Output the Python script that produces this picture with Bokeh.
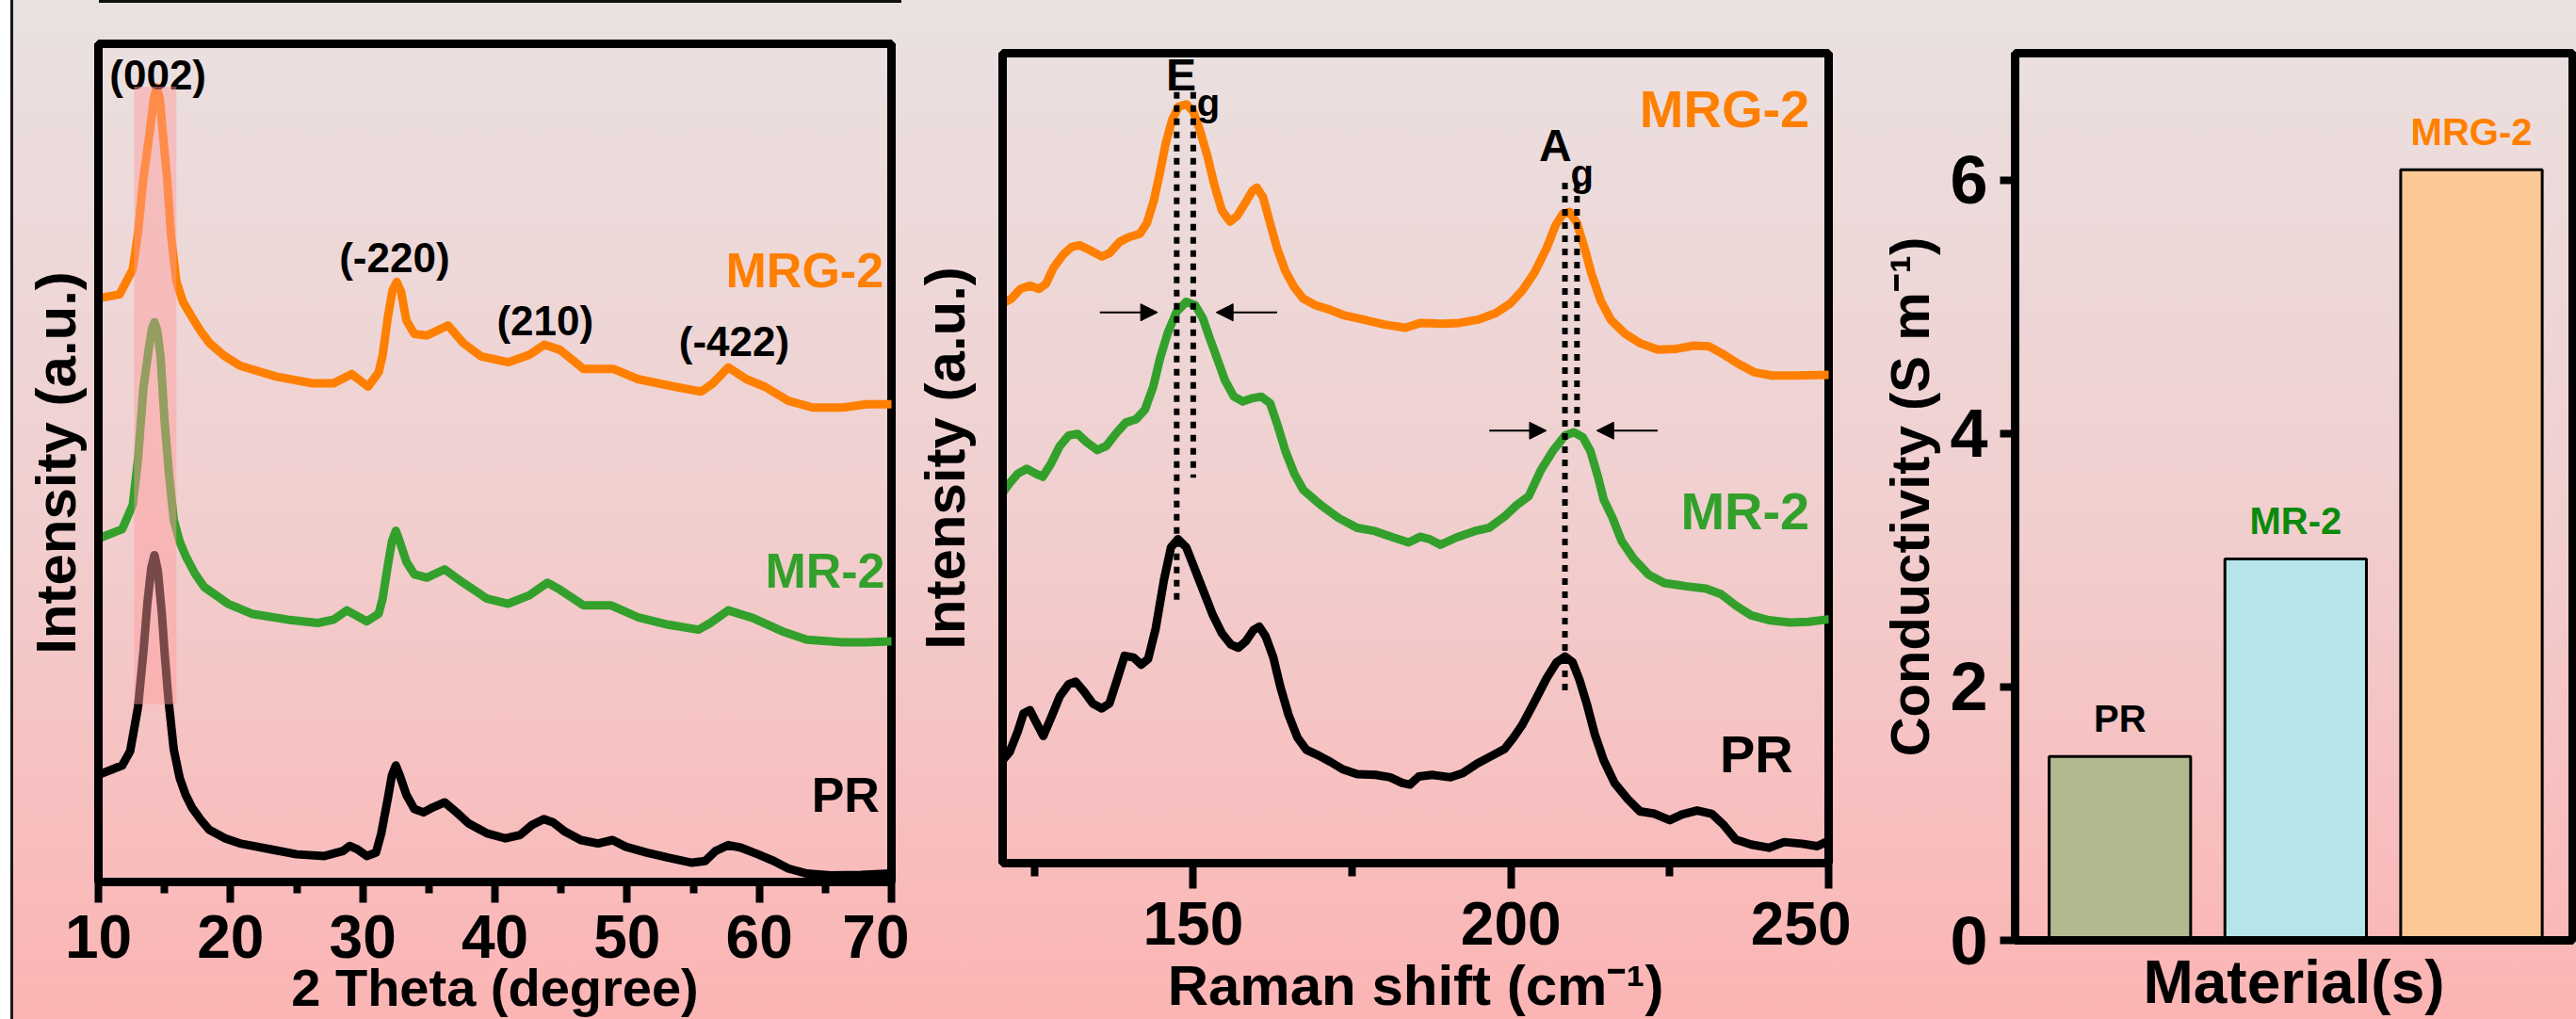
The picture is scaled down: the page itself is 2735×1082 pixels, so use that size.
from bokeh.plotting import figure
from bokeh.models import Range1d, FixedTicker, BoxAnnotation, Arrow, NormalHead, ColumnDataSource
from bokeh.core.properties import value
from bokeh.embed import file_html
from bokeh.resources import INLINE

FONT = "Liberation Sans"

# ---------------- XRD (panel 1) ----------------
xrd_pr_2theta = [10.2, 11.8, 12.4, 13.0, 13.4, 13.7, 14.0, 14.24, 14.5, 14.8, 15.0, 15.3, 15.7, 16.15, 16.6,
                 17.07, 17.75, 18.4, 19.6, 20.7, 23.0, 25.0, 27.1, 28.5, 29.0, 29.6, 30.3, 31.0, 31.4, 31.9,
                 32.2, 32.5, 32.8, 33.3, 33.9, 34.6, 35.3, 36.2, 37.1, 38.0, 39.4, 40.8, 41.9, 42.8, 43.7,
                 44.4, 45.3, 46.5, 47.8, 48.9, 49.9, 51.5, 53.1, 54.9, 55.9, 56.7, 57.65, 58.6, 59.9, 61.1,
                 62.2, 63.6, 65.4, 67.7, 69.9]
xrd_pr_int = [12.9, 13.9, 15.6, 20.9, 27.4, 33.2, 37.5, 39.0, 37.1, 32.0, 27.5, 21.7, 15.8, 12.4, 10.4,
              8.9, 7.4, 6.2, 5.2, 4.6, 3.9, 3.3, 3.1, 3.7, 4.3, 3.9, 3.1, 3.5, 5.8, 10.0,
              12.7, 13.9, 12.7, 10.4, 8.7, 8.3, 8.9, 9.5, 8.3, 7.0, 5.8, 5.2, 5.6, 6.8, 7.5,
              7.1, 6.0, 5.0, 4.6, 5.0, 4.2, 3.5, 2.9, 2.3, 2.5, 3.7, 4.4, 4.1, 3.3, 2.5,
              1.6, 1.0, 0.8, 0.85, 1.0]

xrd_mr_2theta = [10.2, 11.8, 12.6, 13.0, 13.4, 13.8, 14.05, 14.24, 14.45, 14.7, 15.0, 15.35, 15.7, 16.15,
                 16.6, 17.3, 18.0, 19.8, 21.6, 24.3, 26.6, 27.8, 28.8, 30.3, 31.2, 31.5, 31.9, 32.2, 32.5,
                 32.8, 33.3, 33.9, 34.85, 36.2, 37.6, 39.4, 41.0, 42.6, 43.97, 44.9, 46.7, 48.8, 50.8, 53.1,
                 55.4, 56.3, 57.65, 59.5, 61.75, 63.6, 66.3, 68.1, 69.96]
xrd_mr_int = [41.1, 42.1, 45.0, 50.5, 58.9, 63.5, 66.0, 66.8, 65.8, 62.7, 55.1, 48.5, 43.2, 40.6,
              38.9, 36.8, 35.2, 33.2, 32.0, 31.3, 30.9, 31.3, 32.4, 31.1, 32.0, 33.8, 37.8, 40.6, 41.9,
              40.6, 38.2, 36.7, 36.3, 37.3, 35.7, 33.8, 33.2, 34.2, 35.7, 34.9, 33.0, 33.0, 31.6, 30.7,
              30.1, 30.9, 32.4, 31.5, 29.9, 28.9, 28.6, 28.6, 28.7]

xrd_mrg_2theta = [10.2, 11.6, 12.6, 13.0, 13.4, 13.9, 14.2, 14.42, 14.65, 14.9, 15.2, 15.5, 15.9, 16.4,
                  17.07, 17.7, 18.4, 19.5, 20.7, 23.45, 26.2, 27.8, 29.15, 30.4, 31.2, 31.5, 31.9, 32.25,
                  32.57, 32.9, 33.3, 33.9, 34.85, 36.45, 37.6, 38.95, 41.0, 42.6, 43.74, 44.9, 46.7, 49.0,
                  50.8, 53.56, 55.6, 56.5, 57.65, 59.0, 60.4, 62.2, 64.05, 66.3, 68.1, 69.96]
xrd_mrg_int = [69.7, 70.1, 73.1, 77.5, 83.9, 89.7, 93.6, 94.8, 93.4, 88.9, 83.9, 77.0, 71.6, 69.2,
               67.4, 65.8, 64.3, 62.8, 61.6, 60.3, 59.5, 59.5, 60.6, 59.1, 60.8, 62.8, 67.4, 70.6,
               71.6, 70.4, 67.0, 65.4, 65.2, 66.4, 64.3, 62.7, 62.0, 62.9, 64.1, 63.5, 61.2, 61.2,
               60.0, 59.1, 58.5, 59.5, 61.4, 60.0, 59.1, 57.4, 56.6, 56.6, 57.0, 57.0]

xrd_ticks = [10, 20, 30, 40, 50, 60, 70]
xrd_minor_ticks = [15, 25, 35, 45, 55, 65]
xrd_band_2theta = [12.7, 15.9]
xrd_band_int = [21.2, 94.9]

hkl_labels = ["(002)", "(-220)", "(210)", "(-422)"]
hkl_2theta = [14.5, 32.4, 43.8, 58.1]
hkl_int = [96.3, 74.5, 67.0, 64.5]

xrd_names = ["MRG-2", "MR-2", "PR"]
xrd_name_2theta = [69.4, 69.5, 69.1]
xrd_name_int = [73.0, 37.1, 10.4]

# ---------------- Raman (panel 2) ----------------
raman_mrg_shift = [120, 121.4, 122.8, 124.3, 125.7, 126.8, 128.0, 129.5, 130.9, 132.1, 133.7, 135.6, 136.8,
                   138.4, 139.9, 141.6, 142.7, 143.8, 144.8, 145.7, 146.7, 147.7, 148.9, 150.0, 151.0,
                   152.2, 153.3, 154.5, 155.8, 156.9, 158.1, 159.3, 160.0, 161.0, 162.1, 163.2, 164.5,
                   165.9, 167.3, 169.2, 171.6, 173.5, 176.8, 180.1, 183.4, 185.8, 189.1, 191.9, 194.8,
                   197.6, 199.9, 201.8, 203.7, 205.6, 207.0, 208.2, 209.2, 210.4, 211.6, 212.7, 214.1,
                   215.7, 217.9, 220.3, 223.1, 226.0, 228.8, 231.2, 233.5, 235.9, 238.3, 241.1, 244.9, 250.0]
raman_mrg_int = [69.1, 69.7, 70.9, 71.3, 70.9, 71.5, 73.5, 75.1, 76.1, 76.3, 75.7, 74.9, 75.3,
                 76.7, 77.3, 77.7, 79.0, 81.8, 85.4, 89.0, 91.8, 93.4, 93.7, 92.8, 90.6,
                 87.4, 83.8, 80.6, 79.2, 79.9, 81.4, 83.0, 83.4, 82.2, 79.0, 75.9, 73.1,
                 71.1, 69.7, 68.9, 68.3, 67.7, 67.1, 66.5, 66.1, 66.7, 66.6, 66.7, 67.1,
                 67.9, 69.1, 70.7, 72.9, 75.9, 78.7, 80.2, 80.4, 79.0, 75.9, 72.7, 69.5,
                 67.1, 65.4, 64.2, 63.4, 63.5, 63.9, 63.8, 62.8, 61.6, 60.6, 60.2, 60.2, 60.3]

raman_mr_shift = [120, 121.1, 122.4, 123.8, 125.2, 126.3, 127.6, 129.0, 130.4, 131.8, 133.2, 134.9, 136.3,
                  138.0, 139.4, 141.0, 142.4, 143.7, 144.8, 146.0, 147.4, 148.9, 150.3, 151.5, 152.6,
                  153.9, 155.0, 156.4, 157.8, 159.3, 160.7, 162.1, 163.3, 164.5, 165.9, 167.3, 170.1,
                  172.9, 175.8, 178.6, 181.5, 183.9, 185.7, 187.2, 188.9, 191.4, 194.3, 196.6, 199.0,
                  200.9, 202.8, 204.7, 206.6, 208.5, 209.9, 211.3, 212.5, 213.7, 214.6, 216.0, 217.4,
                  219.3, 221.7, 224.1, 227.4, 230.7, 233.1, 235.4, 237.8, 240.6, 243.9, 246.8, 250.0]
raman_mr_int = [45.7, 46.9, 48.1, 48.7, 48.1, 47.7, 49.3, 51.5, 52.8, 53.0, 52.0, 51.0, 51.5,
                53.2, 54.4, 54.8, 56.0, 58.8, 62.4, 65.5, 68.1, 69.3, 68.9, 67.3, 64.8,
                62.0, 59.6, 57.6, 57.0, 57.4, 57.6, 56.8, 54.0, 50.9, 48.1, 46.1, 44.2,
                42.6, 41.4, 41.0, 40.2, 39.6, 40.3, 40.0, 39.3, 40.2, 41.0, 41.4, 42.8,
                44.2, 45.3, 48.5, 50.9, 52.8, 53.2, 52.6, 50.9, 47.7, 44.9, 42.6, 39.8,
                37.6, 35.6, 34.6, 34.2, 33.9, 33.2, 31.8, 30.6, 30.0, 29.7, 29.8, 30.1]

raman_pr_shift = [120, 121.1, 122.4, 123.3, 124.3, 125.2, 126.4, 127.6, 129.0, 130.4, 131.5, 132.8, 134.2,
                  135.6, 136.8, 138.0, 139.2, 140.6, 141.8, 142.9, 144.1, 145.4, 146.5, 147.6, 148.9,
                  150.3, 151.7, 153.1, 154.5, 155.9, 157.1, 158.3, 159.5, 160.4, 161.4, 162.6, 163.7,
                  165.0, 166.4, 167.8, 169.7, 171.6, 173.5, 175.8, 178.7, 181.0, 182.9, 184.1, 185.5,
                  187.6, 190.5, 192.4, 194.7, 197.1, 199.0, 200.4, 201.8, 203.7, 205.6, 207.2, 208.5,
                  209.7, 210.8, 212.0, 213.2, 214.6, 216.3, 218.4, 220.3, 222.6, 225.0, 226.9, 229.3,
                  231.6, 233.5, 235.4, 237.8, 240.6, 243.0, 245.8, 248.2, 249.8]
raman_pr_int = [12.7, 13.7, 16.3, 18.5, 18.9, 17.5, 15.7, 17.9, 20.6, 22.1, 22.4, 21.2, 19.7,
                19.1, 19.7, 22.6, 25.6, 25.4, 24.5, 25.2, 29.0, 35.0, 39.0, 40.0, 39.0,
                36.2, 33.4, 30.6, 28.4, 27.0, 26.6, 27.4, 28.8, 29.2, 28.0, 25.4, 21.8,
                18.3, 15.5, 14.0, 13.3, 12.5, 11.6, 11.0, 10.9, 10.6, 9.9, 9.7, 10.7,
                10.9, 10.6, 11.1, 12.3, 13.3, 14.1, 15.5, 17.1, 19.9, 22.8, 24.8, 25.5,
                24.8, 22.6, 19.5, 15.9, 12.7, 9.9, 7.9, 6.4, 6.1, 5.3, 6.0, 6.5,
                6.1, 4.7, 2.9, 2.3, 1.9, 2.6, 2.4, 2.1, 2.7]

raman_ticks = [150, 200, 250]
raman_minor_ticks = [125, 175, 225]

guide_shift = [147.4, 150.0, 208.5, 210.4]
guide_top = [95.2, 95.2, 84.0, 84.0]
guide_bottom = [31.8, 47.6, 20.6, 53.6]

fwhm_start = [135.3, 163.2, 196.6, 223.1]
fwhm_end = [144.4, 153.6, 205.6, 213.5]
fwhm_int = [68.0, 68.0, 53.4, 53.4]

mode_main = ["E", "A"]
mode_main_shift = [148.1, 207.0]
mode_main_int = [97.3, 88.6]
mode_sub = ["g", "g"]
mode_sub_shift = [152.4, 211.2]
mode_sub_int = [93.95, 85.2]

raman_names = ["MRG-2", "MR-2", "PR"]
raman_name_shift = [247.0, 247.0, 244.4]
raman_name_int = [93.1, 43.5, 13.5]

# ---------------- Conductivity (panel 3) ----------------
materials = ["PR", "MR-2", "MRG-2"]
conductivity = [1.45, 3.01, 6.08]
bar_colors = ["#B3B88F", "#B5E4EA", "#FCC995"]
label_colors = ["#000000", "#0B8A0B", "#FF8000"]
cond_ticks = [0, 2, 4, 6]
cond_minor_ticks = [1, 3, 5]

ORANGE = "#FF7F00"
GREEN = "#33A02C"
LW = 9


def base_style(p):
    p.background_fill_color = None
    p.border_fill_color = None
    p.outline_line_color = "black"
    p.outline_line_width = 9
    p.outline_line_alpha = 1.0
    p.grid.visible = False
    for ax in p.axis:
        ax.axis_line_width = 9
        ax.axis_line_color = "black"
        ax.major_tick_line_width = 8
        ax.minor_tick_line_width = 8
        ax.major_tick_in = 0
        ax.minor_tick_in = 0
        ax.major_label_text_font = FONT
        ax.major_label_text_font_style = "bold"
        ax.major_label_text_color = "black"
        ax.axis_label_text_font = FONT
        ax.axis_label_text_font_style = "bold"
        ax.axis_label_text_color = "black"


def blank_y(p, label, size, standoff):
    ax = p.yaxis[0]
    ax.ticker = FixedTicker(ticks=[])
    ax.major_tick_out = 0
    ax.minor_tick_out = 0
    ax.major_label_standoff = 0
    ax.axis_label = label
    ax.axis_label_text_font_size = size
    ax.axis_label_standoff = standoff


def curve(p, x, y, color):
    p.line(x, y, line_color=color, line_width=LW, line_join="round", line_cap="round")


# ---------- panel 1 ----------
p1 = figure(width=965, height=1082, x_range=Range1d(10, 70), y_range=Range1d(0, 100),
            output_backend="svg", toolbar_location=None,
            min_border_left=104, min_border_right=19, min_border_top=46, min_border_bottom=141)
base_style(p1)
xa = p1.xaxis[0]
xa.ticker = FixedTicker(ticks=xrd_ticks, minor_ticks=xrd_minor_ticks)
xa.major_tick_out = 22
xa.minor_tick_out = 12
xa.major_label_text_font_size = "64px"
xa.major_label_standoff = 13
xa.axis_label = "2 Theta (degree)"
xa.axis_label_text_font_size = "56px"
xa.axis_label_standoff = -3
blank_y(p1, "Intensity (a.u.)", "60px", 12)

curve(p1, xrd_pr_2theta, xrd_pr_int, "black")
curve(p1, xrd_mr_2theta, xrd_mr_int, GREEN)
curve(p1, xrd_mrg_2theta, xrd_mrg_int, ORANGE)
p1.add_layout(BoxAnnotation(left=xrd_band_2theta[0], right=xrd_band_2theta[1],
                            bottom=xrd_band_int[0], top=xrd_band_int[1],
                            fill_color="#FF9B9B", fill_alpha=0.47, line_color=None))
p1.text(x=hkl_2theta, y=hkl_int, text=hkl_labels, text_font=value(FONT), text_font_style="bold",
        text_font_size="44px", text_align="center", text_baseline="middle", text_color="black")
p1.text(x=xrd_name_2theta, y=xrd_name_int, text=xrd_names, text_font=value(FONT), text_font_style="bold",
        text_font_size="52px", text_align="right", text_baseline="middle",
        text_color=[ORANGE, GREEN, "black"])

# ---------- panel 2 ----------
p2 = figure(width=1000, height=1082, x_range=Range1d(120, 250), y_range=Range1d(0, 100),
            output_backend="svg", toolbar_location=None,
            min_border_left=99, min_border_right=24, min_border_top=56, min_border_bottom=159)
base_style(p2)
xa = p2.xaxis[0]
xa.ticker = FixedTicker(ticks=raman_ticks, minor_ticks=raman_minor_ticks)
xa.major_tick_out = 27
xa.minor_tick_out = 14
xa.major_label_text_font_size = "64px"
xa.major_label_standoff = 14
xa.axis_label = "Raman shift (cm\u207b\u00b9)"
xa.axis_label_text_font_size = "60px"
xa.axis_label_standoff = 7
blank_y(p2, "Intensity (a.u.)", "60px", 28)

curve(p2, raman_pr_shift, raman_pr_int, "black")
curve(p2, raman_mr_shift, raman_mr_int, GREEN)
curve(p2, raman_mrg_shift, raman_mrg_int, ORANGE)
p2.segment(x0=guide_shift, y0=guide_top, x1=guide_shift, y1=guide_bottom,
           line_color="black", line_width=6, line_dash="7 7")
arrow_src = ColumnDataSource(dict(xs=fwhm_start, xe=fwhm_end, y=fwhm_int))
p2.add_layout(Arrow(source=arrow_src, x_start="xs", y_start="y", x_end="xe", y_end="y",
                    line_color="black", line_width=2,
                    end=NormalHead(size=18, fill_color="black", line_color="black", line_width=1)))
p2.text(x=mode_main_shift, y=mode_main_int, text=mode_main, text_font=value(FONT), text_font_style="bold",
        text_font_size="48px", text_align="center", text_baseline="middle", text_color="black")
p2.text(x=mode_sub_shift, y=mode_sub_int, text=mode_sub, text_font=value(FONT), text_font_style="bold",
        text_font_size="40px", text_align="center", text_baseline="alphabetic", text_color="black")
p2.text(x=raman_name_shift, y=raman_name_int, text=raman_names, text_font=value(FONT), text_font_style="bold",
        text_font_size="56px", text_align="right", text_baseline="middle",
        text_color=[ORANGE, GREEN, "black"])

# ---------- panel 3 ----------
p3 = figure(width=770, height=1082, x_range=Range1d(0.404, 3.576), y_range=Range1d(0, 7),
            output_backend="svg", toolbar_location=None,
            min_border_left=174, min_border_right=4, min_border_top=56, min_border_bottom=84)
base_style(p3)
ya = p3.yaxis[0]
ya.ticker = FixedTicker(ticks=cond_ticks, minor_ticks=cond_minor_ticks)
ya.major_tick_out = 16
ya.minor_tick_out = 4
ya.minor_tick_line_width = 4
ya.major_label_text_font_size = "72px"
ya.major_label_standoff = 13
ya.axis_label = "Conductivity (S m\u207b\u00b9)"
ya.axis_label_text_font_size = "58px"
ya.axis_label_standoff = 7
xa = p3.xaxis[0]
xa.ticker = FixedTicker(ticks=[])
xa.major_tick_out = 0
xa.minor_tick_out = 0
xa.major_label_standoff = 0
xa.axis_label = "Material(s)"
xa.axis_label_text_font_size = "64px"
xa.axis_label_standoff = 8

bar_src = ColumnDataSource(dict(x=list(range(1, len(materials) + 1)), top=conductivity,
                                name=materials, fill=bar_colors, tc=label_colors))
p3.vbar(x="x", top="top", width=0.805, source=bar_src, fill_color="fill",
        line_color="black", line_width=3)
p3.text(x="x", y="top", text="name", source=bar_src, y_offset=-40, text_font=value(FONT),
        text_font_style="bold", text_font_size="40px", text_align="center", text_baseline="middle",
        text_color="tc")

BG = ("linear-gradient(#111111, #111111) 105px 0px / 852px 3px no-repeat, "
      "linear-gradient(#1a1a1a, #1a1a1a) 11px 0px / 3px 100% no-repeat, "
      "linear-gradient(#ffffff, #ffffff) 0px 0px / 11px 100% no-repeat, "
      "linear-gradient(to bottom, #EAE1E1 0%, #F1CFCF 50%, #FCB4B4 100%)")

TEMPLATE = """
{% block postamble %}
<style>
html, body { width: 2735px; height: 1082px; overflow: hidden; }
body { position: relative; background: """ + BG + """; }
div.pnl { position: absolute; top: 0px; }
div.pnl:nth-of-type(1) { left: 0px; }
div.pnl:nth-of-type(2) { left: 965px; }
div.pnl:nth-of-type(3) { left: 1965px; }
</style>
{% endblock %}
{% block root %}{% from macros import embed %}<div class="pnl">{{ embed(root) }}</div>{% endblock %}
"""

open("out.html", "w").write(file_html([p1, p2, p3], INLINE, template=TEMPLATE))
